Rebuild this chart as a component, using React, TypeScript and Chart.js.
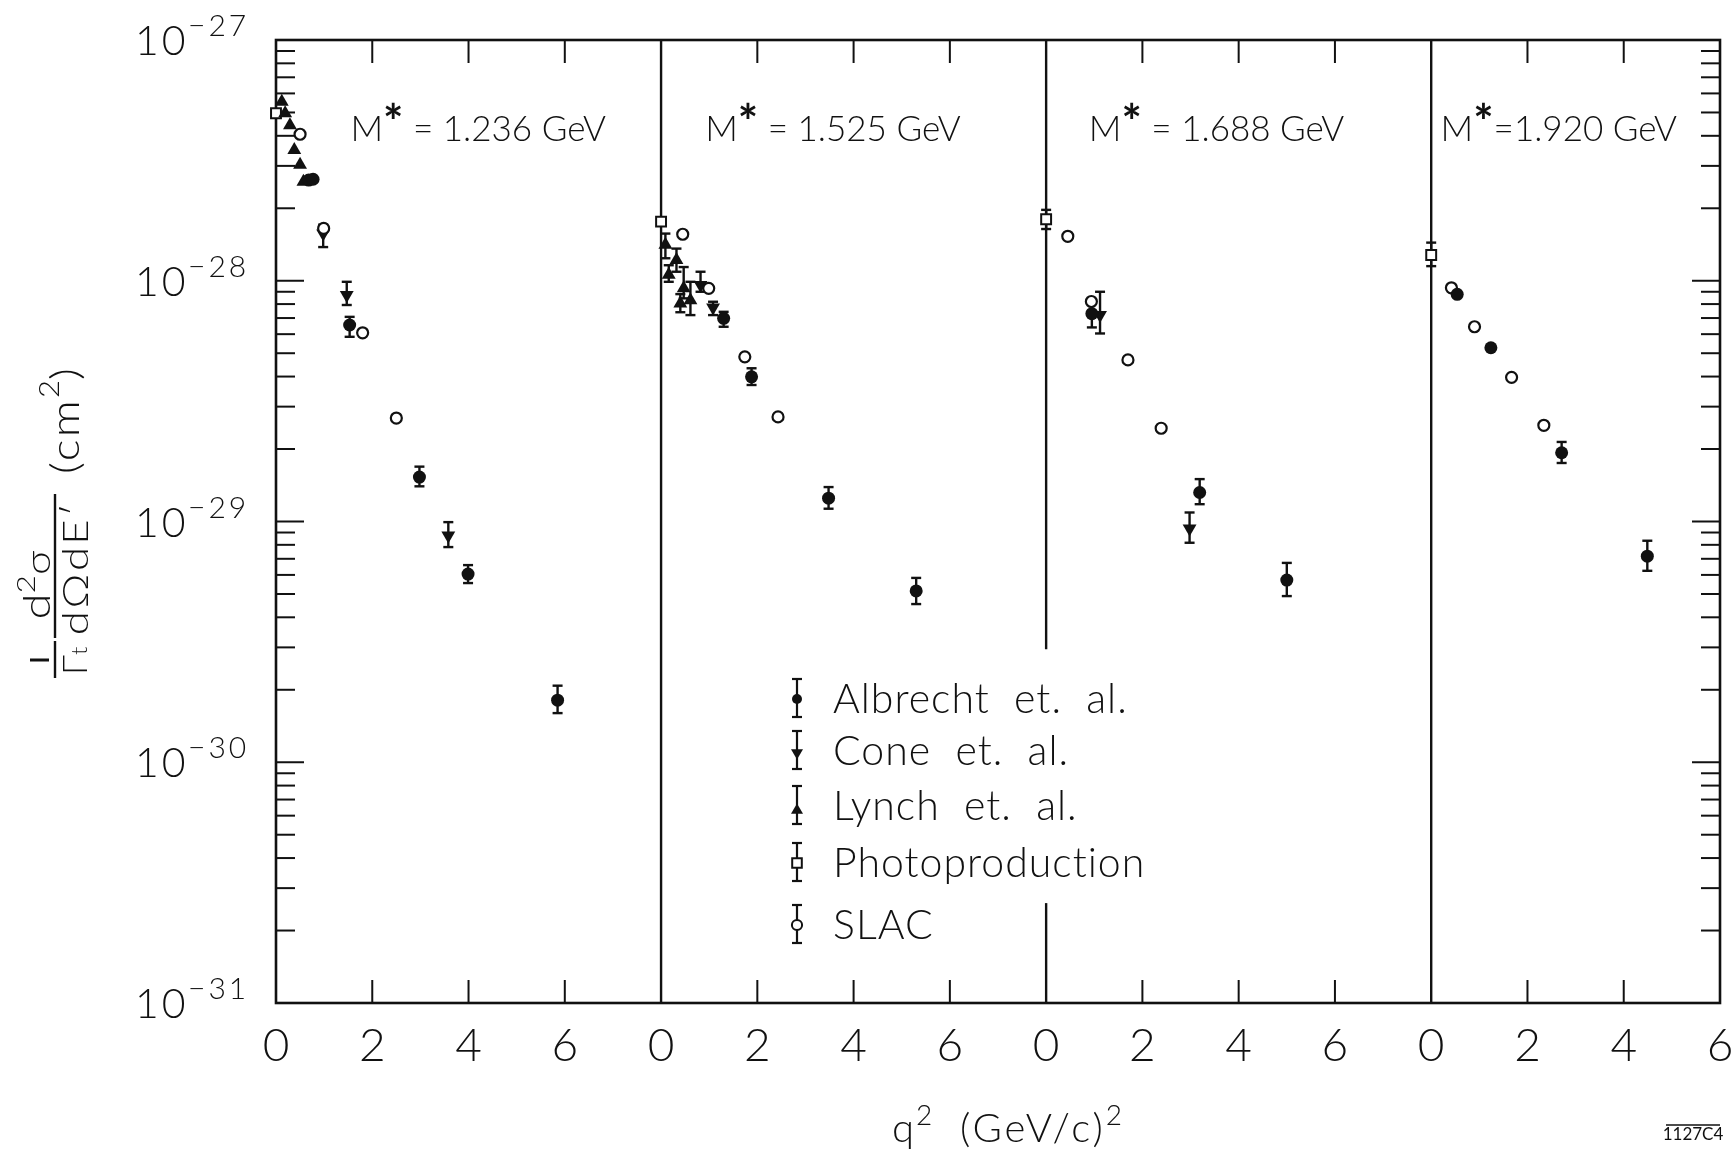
import React, { useEffect, useRef } from "react";
import { Chart, registerables } from "chart.js";
Chart.register(...registerables);

const W = 1734;
const H = 1152;
const FONT = "Lato, 'DejaVu Sans', sans-serif";
const INK = "#111";

// ---------- axes ----------
const xMin = 0;
const xMax = 30;
const yMin = 1e-31;
const yMax = 1e-27;
const panelOffsets = [0, 8, 16, 24];
const panelWidths = [8, 8, 8, 6];
const xTickLabels = [0, 2, 4, 6];
const yDecadeExponents = [-27, -28, -29, -30, -31];
const panelMassText = [" = 1.236 GeV", " = 1.525 GeV", " = 1.688 GeV", "=1.920 GeV"];
const panelLabelCenterQ2 = [4.2, 3.57, 3.54, 2.65];
const panelLabelValue = 4.3e-28;

// ---------- Albrecht et al. (filled circles) ----------
const albrechtPanel = [0, 0, 0, 0, 0, 0, 1, 1, 1, 1, 2, 2, 2, 3, 3, 3, 3];
const albrechtQ2 = [0.68, 0.77, 1.53, 2.98, 3.99, 5.85, 1.3, 1.88, 3.48, 5.3, 0.95, 3.19, 5.0, 0.54, 1.24, 2.71, 4.49];
const albrechtValue = [2.62e-28, 2.64e-28, 6.55e-29, 1.53e-29, 6.05e-30, 1.81e-30, 6.98e-29, 3.99e-29, 1.25e-29, 5.15e-30, 7.3e-29, 1.32e-29, 5.71e-30, 8.78e-29, 5.27e-29, 1.93e-29, 7.18e-30];
const albrechtLow = [null, null, 5.85e-29, 1.4e-29, 5.55e-30, 1.6e-30, 6.44e-29, 3.69e-29, 1.13e-29, 4.54e-30, 6.4e-29, 1.18e-29, 4.9e-30, null, null, 1.75e-29, 6.24e-30];
const albrechtHigh = [null, null, 7.08e-29, 1.69e-29, 6.59e-30, 2.08e-30, 7.43e-29, 4.33e-29, 1.39e-29, 5.83e-30, 8.2e-29, 1.5e-29, 6.73e-30, null, null, 2.14e-29, 8.32e-30];

// ---------- Cone et al. (filled down triangles) ----------
const conePanel = [0, 0, 0, 1, 1, 2, 2];
const coneQ2 = [0.98, 1.47, 3.58, 0.82, 1.08, 1.12, 2.98];
const coneValue = [1.57e-28, 8.72e-29, 8.75e-30, 9.6e-29, 7.75e-29, 7.2e-29, 9.36e-30];
const coneLow = [1.38e-28, 7.93e-29, 7.83e-30, 9.0e-29, 7.2e-29, 6.04e-29, 8.16e-30];
const coneHigh = [1.71e-28, 9.9e-29, 9.94e-30, 1.09e-28, 8.18e-29, 9.0e-29, 1.09e-29];

// ---------- Lynch et al. (filled up triangles) ----------
const lynchPanel = [0, 0, 0, 0, 0, 0, 1, 1, 1, 1, 1, 1];
const lynchQ2 = [0.12, 0.19, 0.29, 0.38, 0.5, 0.57, 0.09, 0.16, 0.32, 0.4, 0.47, 0.61];
const lynchValue = [5.54e-28, 4.96e-28, 4.43e-28, 3.49e-28, 3.03e-28, 2.58e-28, 1.41e-28, 1.06e-28, 1.22e-28, 8.05e-29, 9.3e-29, 8.3e-29];
const lynchLow = [null, null, null, null, null, null, 1.24e-28, 9.9e-29, 1.09e-28, 7.4e-29, 8.45e-29, 7.2e-29];
const lynchHigh = [null, null, null, null, null, null, 1.57e-28, 1.16e-28, 1.36e-28, 8.8e-29, 1.14e-28, 9.9e-29];

// ---------- Photoproduction (open squares) ----------
const photoPanel = [0, 1, 2, 3];
const photoQ2 = [0, 0, 0, 0];
const photoValue = [4.96e-28, 1.76e-28, 1.8e-28, 1.28e-28];
const photoLow = [null, null, 1.64e-28, 1.15e-28];
const photoHigh = [null, null, 1.97e-28, 1.44e-28];

// ---------- SLAC (open circles) ----------
const slacPanel = [0, 0, 0, 0, 1, 1, 1, 1, 2, 2, 2, 2, 3, 3, 3, 3];
const slacQ2 = [0.5, 0.99, 1.8, 2.5, 0.45, 0.99, 1.74, 2.43, 0.45, 0.94, 1.7, 2.39, 0.42, 0.9, 1.67, 2.34];
const slacValue = [4.06e-28, 1.65e-28, 6.08e-29, 2.69e-29, 1.56e-28, 9.3e-29, 4.83e-29, 2.72e-29, 1.53e-28, 8.2e-29, 4.69e-29, 2.44e-29, 9.35e-29, 6.44e-29, 3.97e-29, 2.51e-29];

const legendLabels = ["Albrecht  et.  al.", "Cone  et.  al.", "Lynch  et.  al.", "Photoproduction", "SLAC"];

function buildPoints(panel: number[], q2: number[], val: number[], lo?: (number | null)[], hi?: (number | null)[]) {
  return val.map((v, i) => ({
    x: panelOffsets[panel[i]] + q2[i],
    y: v,
    lo: lo ? lo[i] : null,
    hi: hi ? hi[i] : null,
  }));
}

type Part = { t: string; size: number; weight?: number; dy?: number; ls?: number };

function setFont(ctx: CanvasRenderingContext2D, p: Part) {
  ctx.font = `${p.weight ?? 300} ${p.size}px ${FONT}`;
  (ctx as any).letterSpacing = `${p.ls ?? 0}px`;
}

function richText(ctx: CanvasRenderingContext2D, parts: Part[], x: number, y: number, align: "left" | "center" | "right" = "left", sx = 1) {
  ctx.save();
  ctx.textAlign = "left";
  ctx.textBaseline = "alphabetic";
  ctx.fillStyle = INK;
  const widths = parts.map((p) => {
    setFont(ctx, p);
    return ctx.measureText(p.t).width;
  });
  const total = widths.reduce((a, b) => a + b, 0);
  ctx.translate(x, y);
  ctx.scale(sx, 1);
  let cx = align === "left" ? 0 : align === "center" ? -total / 2 : -total;
  parts.forEach((p, i) => {
    setFont(ctx, p);
    ctx.fillText(p.t, cx, -(p.dy || 0));
    cx += widths[i];
  });
  ctx.restore();
}

function line(ctx: CanvasRenderingContext2D, x1: number, y1: number, x2: number, y2: number) {
  ctx.beginPath();
  ctx.moveTo(x1, y1);
  ctx.lineTo(x2, y2);
  ctx.stroke();
}

function drawMarker(ctx: CanvasRenderingContext2D, kind: number, x: number, y: number, s: number) {
  ctx.save();
  ctx.fillStyle = INK;
  ctx.strokeStyle = INK;
  ctx.lineWidth = 2;
  ctx.beginPath();
  if (kind === 0) {
    ctx.arc(x, y, s, 0, Math.PI * 2);
    ctx.fill();
  } else if (kind === 1) {
    ctx.moveTo(x - s, y - s * 0.8);
    ctx.lineTo(x + s, y - s * 0.8);
    ctx.lineTo(x, y + s * 0.9);
    ctx.closePath();
    ctx.fill();
  } else if (kind === 2) {
    ctx.moveTo(x - s, y + s * 0.8);
    ctx.lineTo(x + s, y + s * 0.8);
    ctx.lineTo(x, y - s * 0.9);
    ctx.closePath();
    ctx.fill();
  } else if (kind === 3) {
    ctx.fillStyle = "#fff";
    ctx.rect(x - s * 0.8, y - s * 0.8, s * 1.6, s * 1.6);
    ctx.fill();
    ctx.stroke();
  } else {
    ctx.fillStyle = "#fff";
    ctx.arc(x, y, s * 0.85, 0, Math.PI * 2);
    ctx.fill();
    ctx.stroke();
  }
  ctx.restore();
}

const decorPlugin = {
  id: "decor",
  beforeDatasetsDraw(chart: any) {
    const ctx: CanvasRenderingContext2D = chart.ctx;
    const { left, right, top, bottom } = chart.chartArea;
    const xs = chart.scales.x;
    const ys = chart.scales.y;
    ctx.save();
    ctx.strokeStyle = INK;
    ctx.lineCap = "butt";
    // frame
    ctx.lineWidth = 2.6;
    ctx.strokeRect(left, top, right - left, bottom - top);
    // panel separators
    ctx.lineWidth = 2.4;
    panelOffsets.slice(1).forEach((o, k) => {
      const px = xs.getPixelForValue(o);
      if (k === 1) {
        line(ctx, px, top, px, ys.getPixelForValue(2.95e-30));
        line(ctx, px, ys.getPixelForValue(2.6e-31), px, bottom);
      } else {
        line(ctx, px, top, px, bottom);
      }
    });
    // log ticks left and right
    ctx.lineWidth = 2;
    for (let e = -31; e < -27; e++) {
      for (let m = 1; m <= 9; m++) {
        if (e === -31 && m === 1) continue;
        const py = ys.getPixelForValue(m * Math.pow(10, e));
        const len = m === 1 ? 28 : 19;
        line(ctx, left, py, left + len, py);
        line(ctx, right, py, right - len, py);
      }
    }
    // x ticks top and bottom
    panelOffsets.forEach((o, p) => {
      xTickLabels.forEach((t) => {
        if (t === 0 || t >= panelWidths[p]) return;
        const px = xs.getPixelForValue(o + t);
        line(ctx, px, top, px, top + 23);
        line(ctx, px, bottom, px, bottom - 23);
      });
    });
    // error bars
    ctx.lineWidth = 2.4;
    chart.data.datasets.forEach((ds: any, i: number) => {
      const meta = chart.getDatasetMeta(i);
      ds.data.forEach((pt: any, j: number) => {
        if (pt.lo == null || pt.hi == null) return;
        const px = meta.data[j].x;
        const y1 = ys.getPixelForValue(pt.lo);
        const y2 = ys.getPixelForValue(pt.hi);
        line(ctx, px, y1, px, y2);
        line(ctx, px - 5, y1, px + 5, y1);
        line(ctx, px - 5, y2, px + 5, y2);
      });
    });
    ctx.restore();
  },
  afterDraw(chart: any) {
    const ctx: CanvasRenderingContext2D = chart.ctx;
    const { left, bottom } = chart.chartArea;
    const xs = chart.scales.x;
    const ys = chart.scales.y;
    ctx.save();
    // x tick labels
    panelOffsets.forEach((o, p) => {
      xTickLabels.forEach((t) => {
        if (t > panelWidths[p]) return;
        const px = xs.getPixelForValue(o + t);
        richText(ctx, [{ t: String(t), size: 46 }], px, bottom + 58, "center");
      });
    });
    // y tick labels
    yDecadeExponents.forEach((e) => {
      const py = ys.getPixelForValue(Math.pow(10, e));
      richText(ctx, [{ t: "10", size: 41, ls: 3 }], left - 141, py + 15, "left");
      richText(ctx, [{ t: "\u2212" + String(-e), size: 30, ls: 3 }], left - 88, py - 4, "left");
    });
    // panel labels
    panelOffsets.forEach((o, p) => {
      const cx = xs.getPixelForValue(o + panelLabelCenterQ2[p]);
      const cy = ys.getPixelForValue(panelLabelValue);
      richText(
        ctx,
        [
          { t: "M", size: 36 },
          { t: "*", size: 48, weight: 700, dy: 2 },
          { t: panelMassText[p], size: 35 },
        ],
        cx,
        cy + 13,
        "center"
      );
    });
    // legend
    const legX = 797;
    const legText = 833;
    const legRows = [698, 750, 805, 862, 924];
    ctx.strokeStyle = INK;
    ctx.lineWidth = 2.2;
    legRows.forEach((cy, k) => {
      line(ctx, legX, cy - 19, legX, cy + 19);
      line(ctx, legX - 5, cy - 19, legX + 5, cy - 19);
      line(ctx, legX - 5, cy + 19, legX + 5, cy + 19);
      drawMarker(ctx, k, legX, cy + (k === 1 || k === 2 ? 4 : 1), k === 0 ? 5 : 6);
      richText(ctx, [{ t: legendLabels[k], size: 41, ls: 1 }], legText, cy + 15, "left");
    });
    // x-axis title
    richText(
      ctx,
      [
        { t: "q", size: 40, ls: 2 },
        { t: "2", size: 28, dy: 17 },
        { t: "  (GeV/c)", size: 40, ls: 3 },
        { t: "2", size: 28, dy: 17 },
      ],
      1007,
      1142,
      "center"
    );
    // figure id
    richText(ctx, [{ t: "1127C4", size: 17, weight: 400 }], 1693, 1140, "center");
    ctx.strokeStyle = INK;
    ctx.lineWidth = 1.5;
    line(ctx, 1666, 1125, 1720, 1125);
    // y-axis title (rotated)
    ctx.translate(55, 0);
    ctx.rotate(-Math.PI / 2);
    // "1" numerator drawn as an upright stroke
    ctx.lineWidth = 3;
    line(ctx, -660, -25, -660, -6);
    ctx.lineWidth = 2.4;
    line(ctx, -641, 0, -678, 0);
    richText(ctx, [{ t: "\u0393", size: 34 }, { t: "t", size: 22 }], -661, 32, "center", 1.1);
    richText(
      ctx,
      [
        { t: "d", size: 38 },
        { t: "2", size: 25, dy: 15 },
        { t: "\u03c3", size: 34 },
      ],
      -585,
      -5,
      "center",
      1.25
    );
    line(ctx, -494, 0, -638, 0);
    richText(ctx, [{ t: "d\u03a9dE\u2032", size: 35, ls: 2 }], -568, 33, "center", 1.25);
    richText(
      ctx,
      [
        { t: "(cm", size: 40, ls: 2 },
        { t: "2", size: 27, dy: 20 },
        { t: ")", size: 40 },
      ],
      -421,
      24,
      "center",
      1.15
    );
    ctx.restore();
  },
};

export default function App() {
  const ref = useRef<HTMLCanvasElement>(null);
  useEffect(() => {
    const canvas = ref.current;
    if (!canvas) return;
    const chart = new Chart(canvas, {
      type: "scatter",
      data: {
        datasets: [
          {
            label: legendLabels[0],
            data: buildPoints(albrechtPanel, albrechtQ2, albrechtValue, albrechtLow, albrechtHigh),
            pointStyle: "circle",
            pointRadius: 6.5,
            backgroundColor: INK,
            borderColor: INK,
            borderWidth: 0,
            order: 1,
            clip: false,
          } as any,
          {
            label: legendLabels[1],
            data: buildPoints(conePanel, coneQ2, coneValue, coneLow, coneHigh),
            pointStyle: "triangle",
            rotation: 180,
            pointRadius: 8,
            backgroundColor: INK,
            borderColor: INK,
            borderWidth: 0,
            order: 4,
            clip: false,
          } as any,
          {
            label: legendLabels[2],
            data: buildPoints(lynchPanel, lynchQ2, lynchValue, lynchLow, lynchHigh),
            pointStyle: "triangle",
            pointRadius: 8,
            backgroundColor: INK,
            borderColor: INK,
            borderWidth: 0,
            order: 3,
            clip: false,
          } as any,
          {
            label: legendLabels[3],
            data: buildPoints(photoPanel, photoQ2, photoValue, photoLow, photoHigh),
            pointStyle: "rect",
            pointRadius: 7,
            backgroundColor: "#fff",
            borderColor: INK,
            borderWidth: 2,
            order: 5,
            clip: false,
          } as any,
          {
            label: legendLabels[4],
            data: buildPoints(slacPanel, slacQ2, slacValue),
            pointStyle: "circle",
            pointRadius: 5.5,
            backgroundColor: "#fff",
            borderColor: INK,
            borderWidth: 2.2,
            order: 2,
            clip: false,
          } as any,
        ],
      },
      options: {
        animation: false,
        responsive: false,
        devicePixelRatio: 1,
        layout: { padding: { left: 276, right: 14, top: 40, bottom: 149 } },
        plugins: { legend: { display: false }, tooltip: { enabled: false } },
        scales: {
          x: { type: "linear", min: xMin, max: xMax, display: false },
          y: { type: "logarithmic", min: yMin, max: yMax, display: false },
        },
      },
      plugins: [decorPlugin],
    } as any);
    return () => chart.destroy();
  }, []);
  return (
    <div style={{ position: "fixed", left: 0, top: 0, width: W, height: H, background: "#fff" }}>
      <canvas ref={ref} width={W} height={H} style={{ display: "block", width: W, height: H }} />
    </div>
  );
}
